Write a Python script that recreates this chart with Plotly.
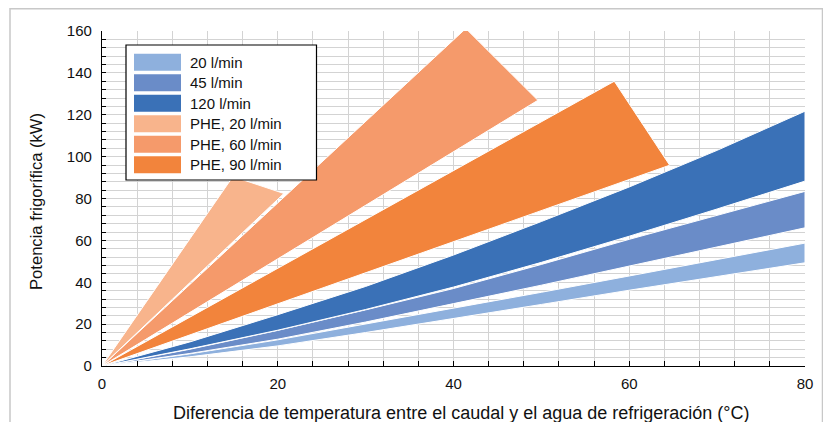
import plotly.graph_objects as go

# ---- data ----
x_blue = [0, 10, 20, 30, 40, 50, 60, 70, 80]
b20_upper = [0, 5.8, 12.5, 20.0, 27.5, 35.2, 43.0, 50.8, 58.7]
b20_lower = [0, 4.4, 9.6, 16.0, 22.6, 29.4, 36.2, 42.8, 49.3]
b45_upper = [0, 8.0, 17.0, 26.8, 37.0, 48.5, 60.5, 72.0, 83.4]
b45_lower = [0, 6.0, 12.8, 21.0, 29.8, 38.6, 47.5, 56.8, 66.0]
b120_upper = [0, 11.5, 24.5, 38.0, 53.0, 69.0, 85.5, 103.0, 121.7]
b120_lower = [0, 8.2, 17.1, 27.0, 37.7, 49.5, 62.0, 75.0, 88.3]

phe20_x = [0, 14.9, 20.7]
phe20_y = [0, 90.5, 82.4]
phe60_x = [0, 41.4, 49.6]
phe60_y = [0, 161.2, 126.9]
phe90_x = [0, 58.3, 64.6]
phe90_y = [0, 136.0, 95.9]

names = ["20 l/min", "45 l/min", "120 l/min", "PHE, 20 l/min", "PHE, 60 l/min", "PHE, 90 l/min"]
colors = ["#8eb0dd", "#6a8cc8", "#3a71b7", "#f8b48c", "#f59a6b", "#f2843c"]

x_title = "Diferencia de temperatura entre el caudal y el agua de refrigeración (°C)"
y_title = "Potencia frigorífica (kW)"

FONT = "Liberation Sans, Arial, Helvetica, sans-serif"

fig = go.Figure()


def band(x, upper, lower, color, name):
    xs = list(x) + list(x[::-1])
    ys = list(upper) + list(lower[::-1])
    fig.add_trace(go.Scatter(x=xs, y=ys, fill="toself", fillcolor=color, mode="lines",
                             line=dict(color="white", width=1), name=name,
                             showlegend=False, hoverinfo="skip"))


def wedge(x, y, color, name):
    fig.add_trace(go.Scatter(x=list(x) + [x[0]], y=list(y) + [y[0]], fill="toself",
                             fillcolor=color, mode="lines", line=dict(color="white", width=1),
                             name=name, showlegend=False, hoverinfo="skip"))


band(x_blue, b20_upper, b20_lower, colors[0], names[0])
band(x_blue, b45_upper, b45_lower, colors[1], names[1])
band(x_blue, b120_upper, b120_lower, colors[2], names[2])
wedge(phe90_x, phe90_y, colors[5], names[5])
wedge(phe60_x, phe60_y, colors[4], names[4])
wedge(phe20_x, phe20_y, colors[3], names[3])

# page body has an 8px margin: the figure starts at (8, 8) in the window
OFF = 8
W, H = 815, 414
L, R, T, B = 94, 18, 23, 56
PW, PH = W - L - R, H - T - B


def px(xa):
    # absolute window pixel -> paper x
    return (xa - OFF - L) / PW


def py(ya):
    return (H - B - (ya - OFF)) / PH


shapes = []
annotations = []
# outer frame
shapes.append(dict(type="rect", xref="paper", yref="paper", x0=px(10), x1=px(822.5), y0=py(460), y1=py(8.8),
                   line=dict(color="#c8c8c8", width=1.5), fillcolor="rgba(0,0,0,0)", layer="below"))
# legend box
shapes.append(dict(type="rect", xref="paper", yref="paper", x0=px(126), x1=px(316.5), y0=py(180), y1=py(45),
                   line=dict(color="black", width=1.2), fillcolor="white", layer="above"))
for i, (nm, c) in enumerate(zip(names, colors)):
    cy = 62.3 + 20.5 * i
    shapes.append(dict(type="rect", xref="paper", yref="paper", x0=px(134), x1=px(181),
                       y0=py(cy + 8.5), y1=py(cy - 8.5), line=dict(width=0), fillcolor=c, layer="above"))
    annotations.append(dict(xref="paper", yref="paper", x=px(188), y=py(cy), text=nm, showarrow=False,
                            xanchor="left", yanchor="middle", font=dict(size=15, color="#111", family=FONT)))

# axis titles
annotations.append(dict(xref="paper", yref="paper", x=px(461.5), y=py(413), text=x_title, showarrow=False,
                        xanchor="center", yanchor="middle", font=dict(size=18, color="#111", family=FONT)))
annotations.append(dict(xref="paper", yref="paper", x=px(36), y=py(202), text=y_title, showarrow=False,
                        textangle=-90, xanchor="center", yanchor="middle",
                        font=dict(size=16.6, color="#111", family=FONT)))

grid_c = "#d3d3d3"
fig.update_layout(
    width=W, height=H, margin=dict(l=L, r=R, t=T, b=B, autoexpand=False),
    paper_bgcolor="white", plot_bgcolor="white",
    font=dict(family=FONT, size=14, color="#111"),
    shapes=shapes, annotations=annotations,
    xaxis=dict(range=[0, 80], dtick=20, tick0=0, ticks="inside", ticklen=5, tickcolor="black",
               showline=True, linecolor="black", linewidth=1.3, zeroline=False,
               showgrid=True, gridcolor=grid_c, gridwidth=1.3,
               minor=dict(dtick=4, tick0=0, ticks="inside", ticklen=5, tickcolor="black",
                          showgrid=True, gridcolor=grid_c, gridwidth=1.3),
               tickfont=dict(size=15), ticklabelstandoff=4),
    yaxis=dict(range=[0, 160], dtick=20, tick0=0, ticks="inside", ticklen=4, tickcolor="black",
               showline=True, linecolor="black", linewidth=1.3, zeroline=False,
               showgrid=True, gridcolor=grid_c, gridwidth=1.3,
               minor=dict(dtick=4, tick0=0, ticks="inside", ticklen=4, tickcolor="black",
                          showgrid=True, gridcolor=grid_c, gridwidth=1.3),
               tickfont=dict(size=15), ticklabelstandoff=6),
    showlegend=False,
)

fig.write_html("out.html")
